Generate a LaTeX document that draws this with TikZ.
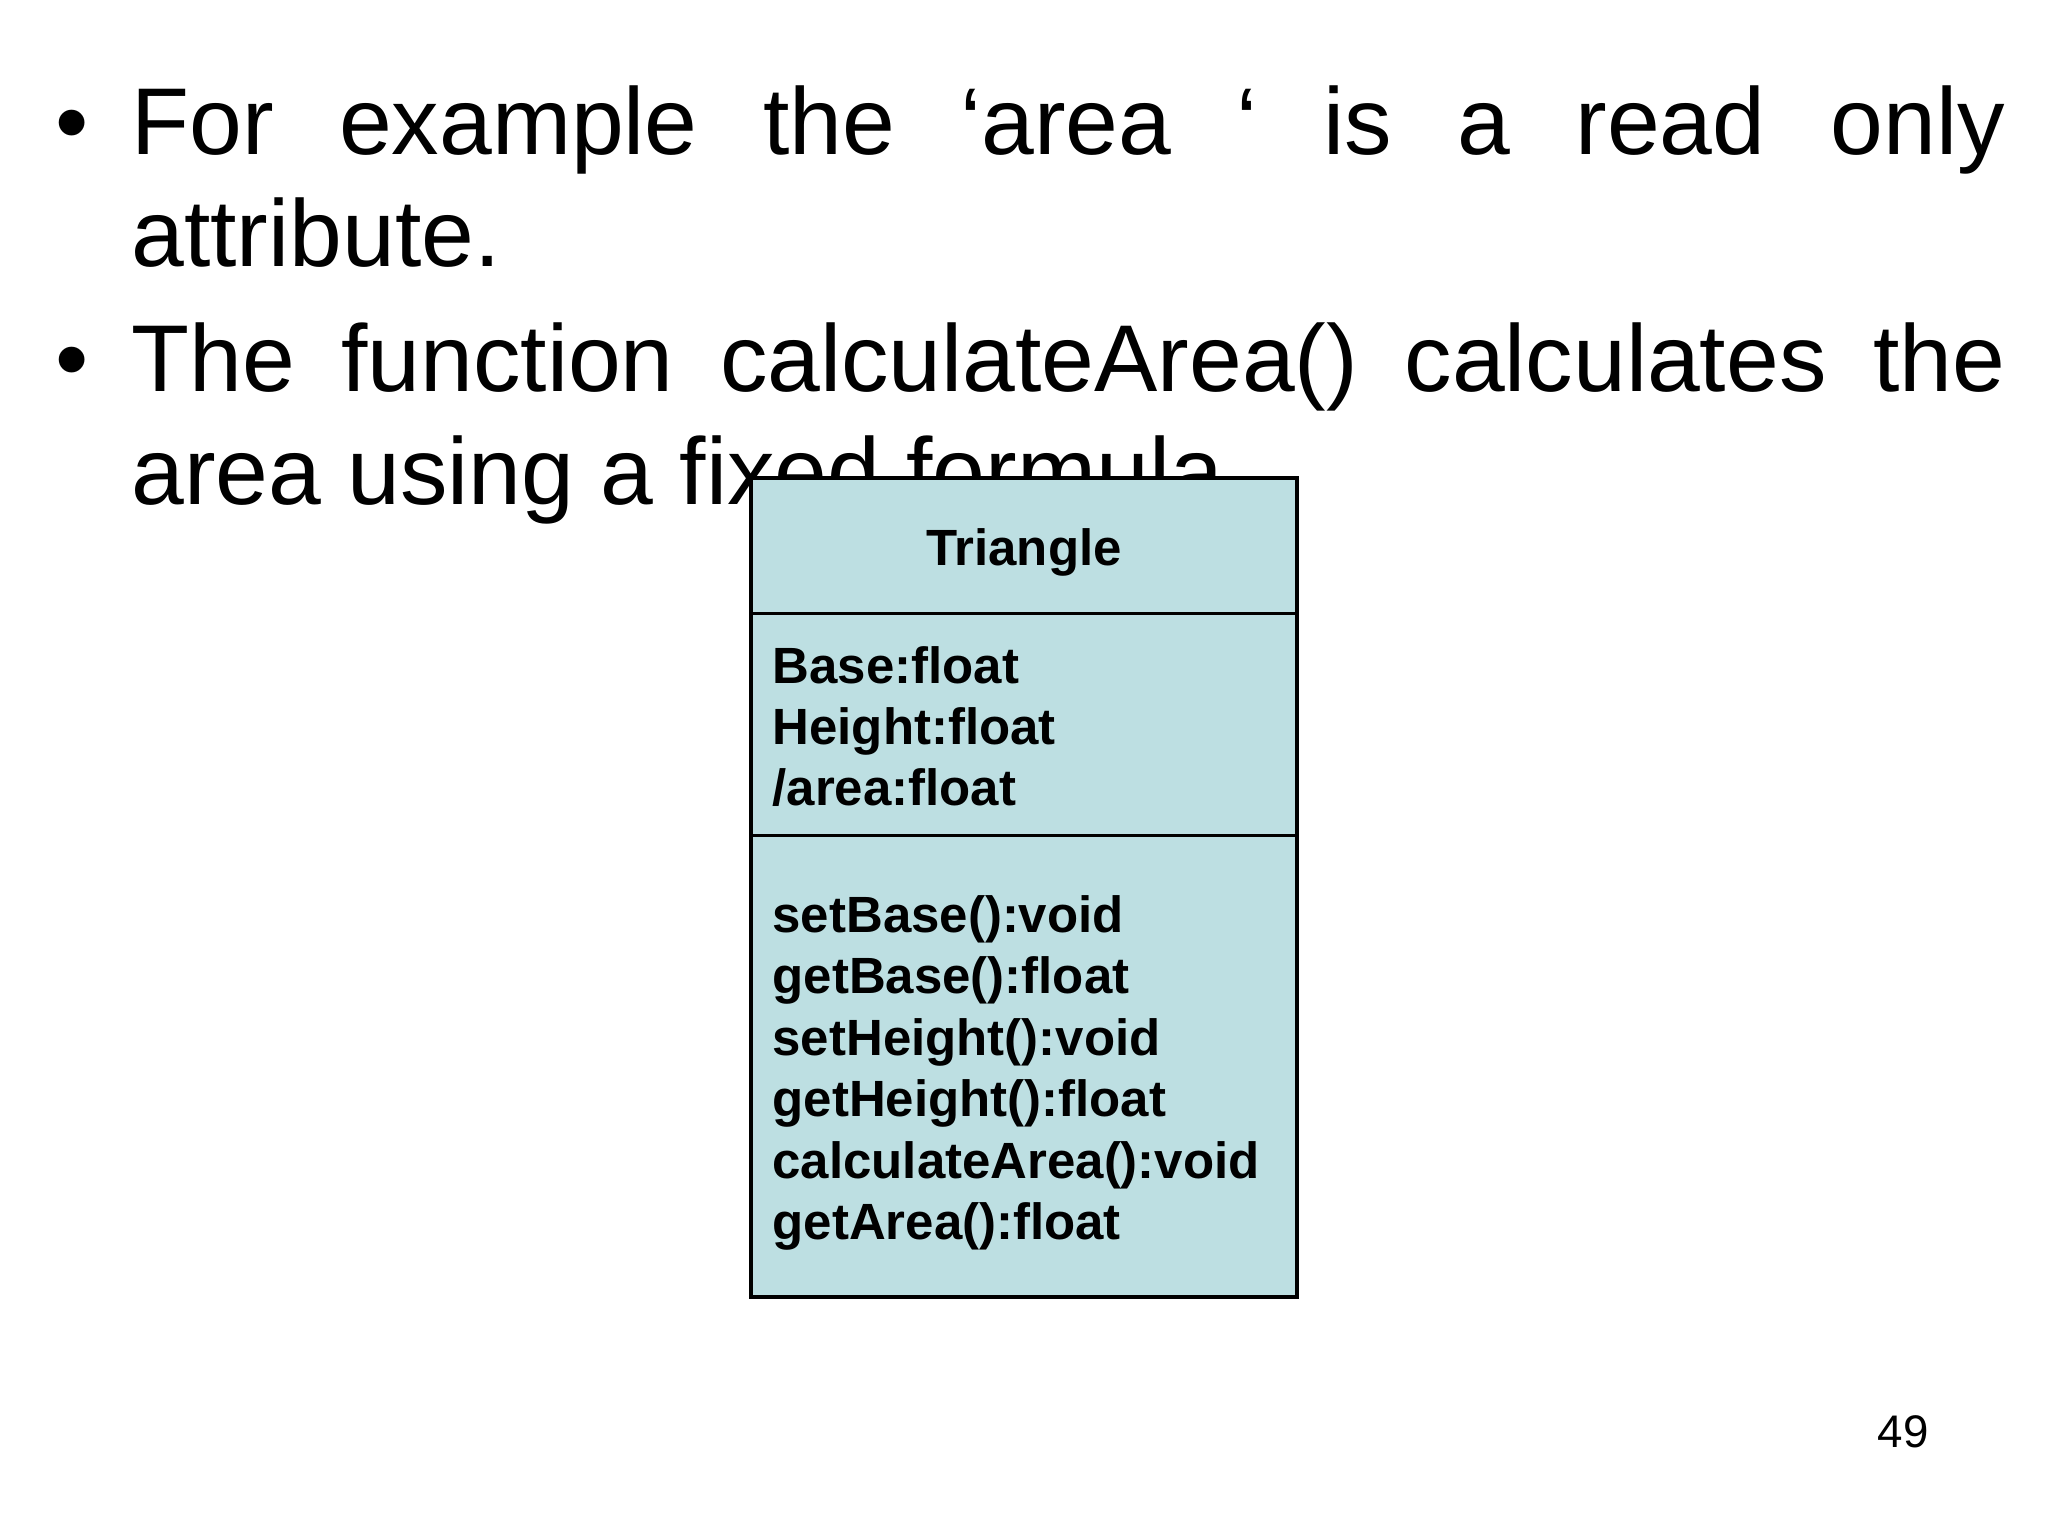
\documentclass[tikz,border=0pt]{standalone}
\usepackage{fontspec}
\setmainfont{Liberation Sans}
\definecolor{boxfill}{HTML}{BDDFE2}
\begin{document}
\begin{tikzpicture}[x=0.013061cm,y=-0.013061cm,
  big/.style={inner sep=0pt,anchor=base west,font=\fontsize{27}{32}\selectfont},
  mem/.style={inner sep=0pt,anchor=base west,font=\fontsize{14.5}{17}\selectfont\bfseries}]
\useasboundingbox[fill=white] (0,0) rectangle (1568,1176);
\node[big] (b1) at (42,118) {\textbullet};
\node[big,text width=18.74cm,align=justify] (t1) at (100,118) {For example the ‘area ‘ is a read only\linebreak attribute.};
\node[big] (b2) at (42,300) {\textbullet};
\node[big,text width=18.74cm,align=justify] (t2) at (100,300) {The function calculateArea() calculates the\linebreak area using a fixed formula.};
\draw[fill=boxfill,line width=0.9pt] (575,366) rectangle (993,993);
\draw[line width=0.9pt] (575,470) -- (993,470) (575,640) -- (993,640);
\node[mem,anchor=base] (title) at (784,433) {Triangle};
\node[mem] (a1) at (591,523) {Base:float};
\node[mem] (a2) at (591,570) {Height:float};
\node[mem] (a3) at (591,617) {/area:float};
\node[mem] (m1) at (591,714) {setBase():void};
\node[mem] (m2) at (591,761) {getBase():float};
\node[mem] (m3) at (591,808) {setHeight():void};
\node[mem] (m4) at (591,855) {getHeight():float};
\node[mem] (m5) at (591,902) {calculateArea():void};
\node[mem] (m6) at (591,949) {getArea():float};
\node[inner sep=0pt,anchor=base,font=\fontsize{13}{15}\selectfont] (pg) at (1457,1108) {49};
\end{tikzpicture}
\end{document}
